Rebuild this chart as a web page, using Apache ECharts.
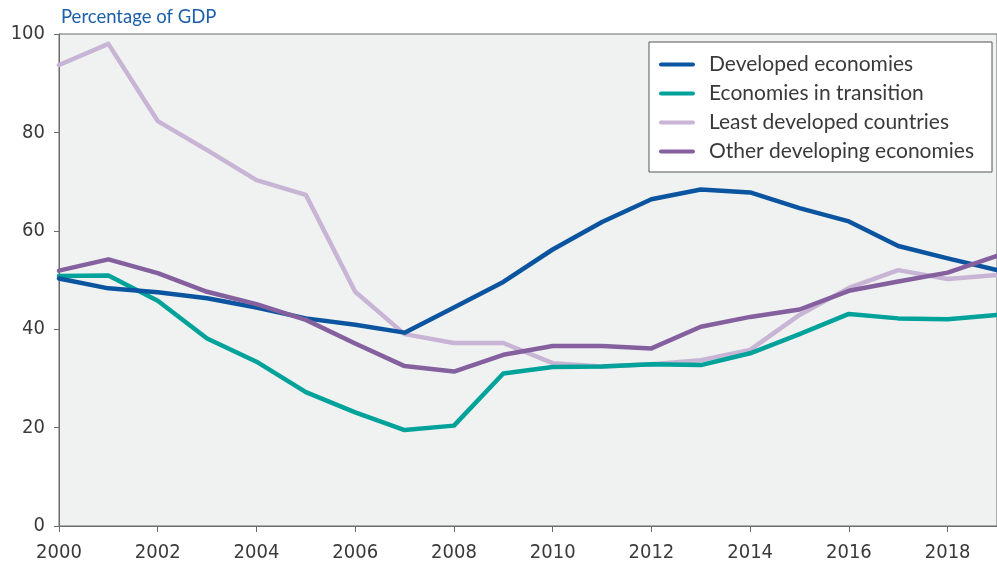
<!DOCTYPE html>
<html>
<head>
<meta charset="utf-8">
<script src="https://cdn.jsdelivr.net/npm/echarts@6/dist/echarts.min.js"></script>
<style>
  html, body { margin: 0; padding: 0; background: #ffffff; }
  #chart { width: 997px; height: 568px; }
</style>
</head>
<body>
<div id="chart"></div>
<script>
// Years on the horizontal axis
const years = ['2000','2001','2002','2003','2004','2005','2006','2007','2008','2009',
               '2010','2011','2012','2013','2014','2015','2016','2017','2018','2019'];

// Percentage of GDP by economy group
const developed = [50.3, 48.3, 47.5, 46.3, 44.4, 42.2, 40.9, 39.3, 44.4, 49.6,
                   56.2, 61.8, 66.4, 68.4, 67.8, 64.6, 61.9, 56.9, 54.4, 52.0];
const transition = [50.8, 50.9, 45.8, 38.1, 33.4, 27.2, 23.1, 19.5, 20.4, 31.0,
                    32.3, 32.4, 32.9, 32.7, 35.1, 39.0, 43.1, 42.2, 42.0, 42.9];
const leastDeveloped = [93.7, 98.0, 82.3, 76.4, 70.3, 67.3, 47.6, 39.0, 37.2, 37.2,
                        33.1, 32.4, 32.9, 33.7, 35.8, 42.9, 48.4, 52.0, 50.2, 51.0];
const otherDeveloping = [51.9, 54.2, 51.4, 47.6, 45.1, 41.9, 37.1, 32.5, 31.4, 34.8,
                         36.6, 36.6, 36.1, 40.5, 42.5, 44.0, 47.8, 49.7, 51.5, 54.9];

const seriesNames = ['Developed economies', 'Economies in transition',
                     'Least developed countries', 'Other developing economies'];
const seriesColors = ['#0b55a0', '#00a29a', '#c8b4d4', '#85609f'];
const seriesData = [developed, transition, leastDeveloped, otherDeveloping];

const yTicks = [0, 20, 40, 60, 80, 100];

const axisFont = 'Liberation Sans Narrow, DejaVu Sans Condensed, sans-serif';
const textFont = 'Lato, Open Sans, sans-serif';

const chart = echarts.init(document.getElementById('chart'), null, { renderer: 'canvas' });

chart.setOption({
  animation: false,
  backgroundColor: '#ffffff',
  title: {
    text: 'Percentage of GDP',
    left: 56,
    top: 3,
    textStyle: { color: '#1d5fa8', fontFamily: textFont, fontWeight: 'normal', fontSize: 18.5 }
  },
  grid: {
    left: 59, right: 0, top: 34, bottom: 42,
    show: true,
    backgroundColor: '#f0f2f2',
    borderColor: '#6b6b6b',
    borderWidth: 1
  },
  legend: {
    orient: 'vertical',
    right: 5,
    top: 42,
    backgroundColor: '#ffffff',
    borderColor: '#555555',
    borderWidth: 1,
    padding: [12, 18, 10, 10],
    itemGap: 8,
    itemWidth: 36,
    itemHeight: 14,
    icon: 'path://M2,5 L34,5 A2,2 0 0 1 34,9 L2,9 A2,2 0 0 1 2,5 Z',
    textStyle: {
      color: '#3a3a3a', fontFamily: textFont, fontSize: 21, lineHeight: 20,
      padding: [0, 0, 0, 9]
    },
    data: seriesNames
  },
  xAxis: {
    type: 'category',
    data: years,
    boundaryGap: false,
    axisLine: { show: true, lineStyle: { color: '#6b6b6b', width: 1 } },
    axisTick: { show: true, interval: 1, length: 6, lineStyle: { color: '#6b6b6b' } },
    axisLabel: {
      interval: 1, margin: 17, color: '#3a3a3a',
      fontFamily: axisFont, fontSize: 20
    },
    splitLine: { show: false }
  },
  yAxis: {
    type: 'value',
    min: yTicks[0],
    max: yTicks[yTicks.length - 1],
    interval: 20,
    axisLine: { show: true, lineStyle: { color: '#6b6b6b', width: 1 } },
    axisTick: { show: true, length: 5, lineStyle: { color: '#6b6b6b' } },
    axisLabel: {
      margin: 14, color: '#3a3a3a',
      fontFamily: axisFont, fontSize: 20
    },
    splitLine: { show: false }
  },
  series: seriesNames.map((name, i) => ({
    name: name,
    type: 'line',
    data: seriesData[i],
    symbol: 'none',
    smooth: false,
    z: [3, 2, 1, 4][i],
    itemStyle: { color: seriesColors[i] },
    lineStyle: { color: seriesColors[i], width: 4.5, cap: 'round', join: 'round' }
  }))
});
</script>
</body>
</html>
